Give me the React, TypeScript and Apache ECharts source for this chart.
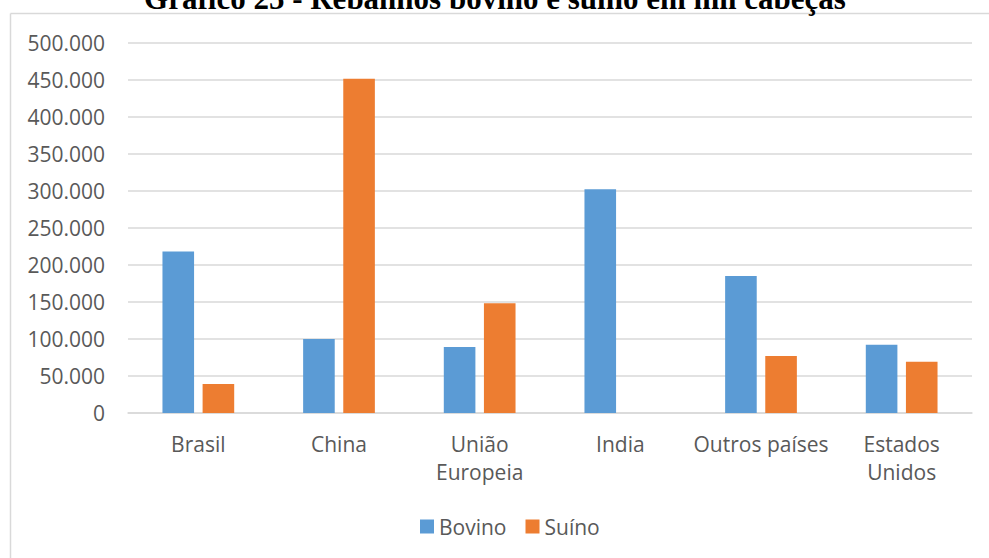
import React, { useEffect, useRef } from "react";
import * as echarts from "echarts";

const categories = ["Brasil", "China", "União\nEuropeia", "India", "Outros países", "Estados\nUnidos"];
const bovino = [218000, 100000, 89000, 302000, 185000, 92000];
const suino = [39000, 451000, 148000, 0, 77000, 69000];
const seriesNames = ["Bovino", "Suíno"];
const titleText = "Gráfico 25 - Rebanhos bovino e suíno em mil cabeças";

const fmt = (v: number) => String(v).replace(/\B(?=(\d{3})+(?!\d))/g, ".");

export default function App() {
  const ref = useRef<HTMLDivElement>(null);
  useEffect(() => {
    document.body.style.margin = "0";
    const chart = echarts.init(ref.current!, null, { renderer: "svg" });
    const font = "'Open Sans', sans-serif";
    chart.setOption({
      animation: false,
      backgroundColor: "#ffffff",
      textStyle: { fontFamily: font },
      grid: { left: 128, right: 17, top: 42.5, bottom: 145, containLabel: false },
      legend: {
        data: seriesNames,
        top: 511,
        left: 415,
        itemWidth: 14,
        itemHeight: 14,
        itemGap: 19,
        icon: "rect",
        textStyle: { fontFamily: font, fontSize: 21, color: "#595959" },
      },
      xAxis: {
        type: "category",
        data: categories,
        axisTick: { show: false },
        axisLine: { lineStyle: { color: "#d9d9d9", width: 1.5 } },
        axisLabel: { fontFamily: font, fontSize: 21, color: "#595959", margin: 17, lineHeight: 28, interval: 0 },
      },
      yAxis: {
        type: "value",
        min: 0,
        max: 500000,
        interval: 50000,
        axisLine: { show: false },
        axisTick: { show: false },
        splitLine: { lineStyle: { color: "#d9d9d9", width: 1.5 } },
        axisLabel: { fontFamily: font, fontSize: 21, color: "#595959", margin: 23, formatter: (v: number) => fmt(v) },
      },
      series: [
        { name: seriesNames[0], type: "bar", data: bovino, barWidth: 31.6, barGap: "27%", itemStyle: { color: "#5B9BD5" } },
        { name: seriesNames[1], type: "bar", data: suino, barWidth: 31.6, barGap: "27%", itemStyle: { color: "#ED7D31" } },
      ],
      graphic: [
        { type: "line", shape: { x1: 10.5, y1: 13.5, x2: 989, y2: 13.5 }, style: { stroke: "#d9d9d9", lineWidth: 1.5 } },
        { type: "line", shape: { x1: 10.5, y1: 13.5, x2: 10.5, y2: 558 }, style: { stroke: "#d9d9d9", lineWidth: 1.5 } },
        {
          type: "text",
          x: 495,
          y: 14,
          style: {
            text: titleText,
            font: "bold 31px 'Liberation Serif', serif",
            fill: "#000000",
            align: "center",
            verticalAlign: "bottom",
          },
        },
      ],
    });
    return () => chart.dispose();
  }, []);
  return <div ref={ref} style={{ width: 989, height: 558, position: "fixed", left: 0, top: 0 }} />;
}
